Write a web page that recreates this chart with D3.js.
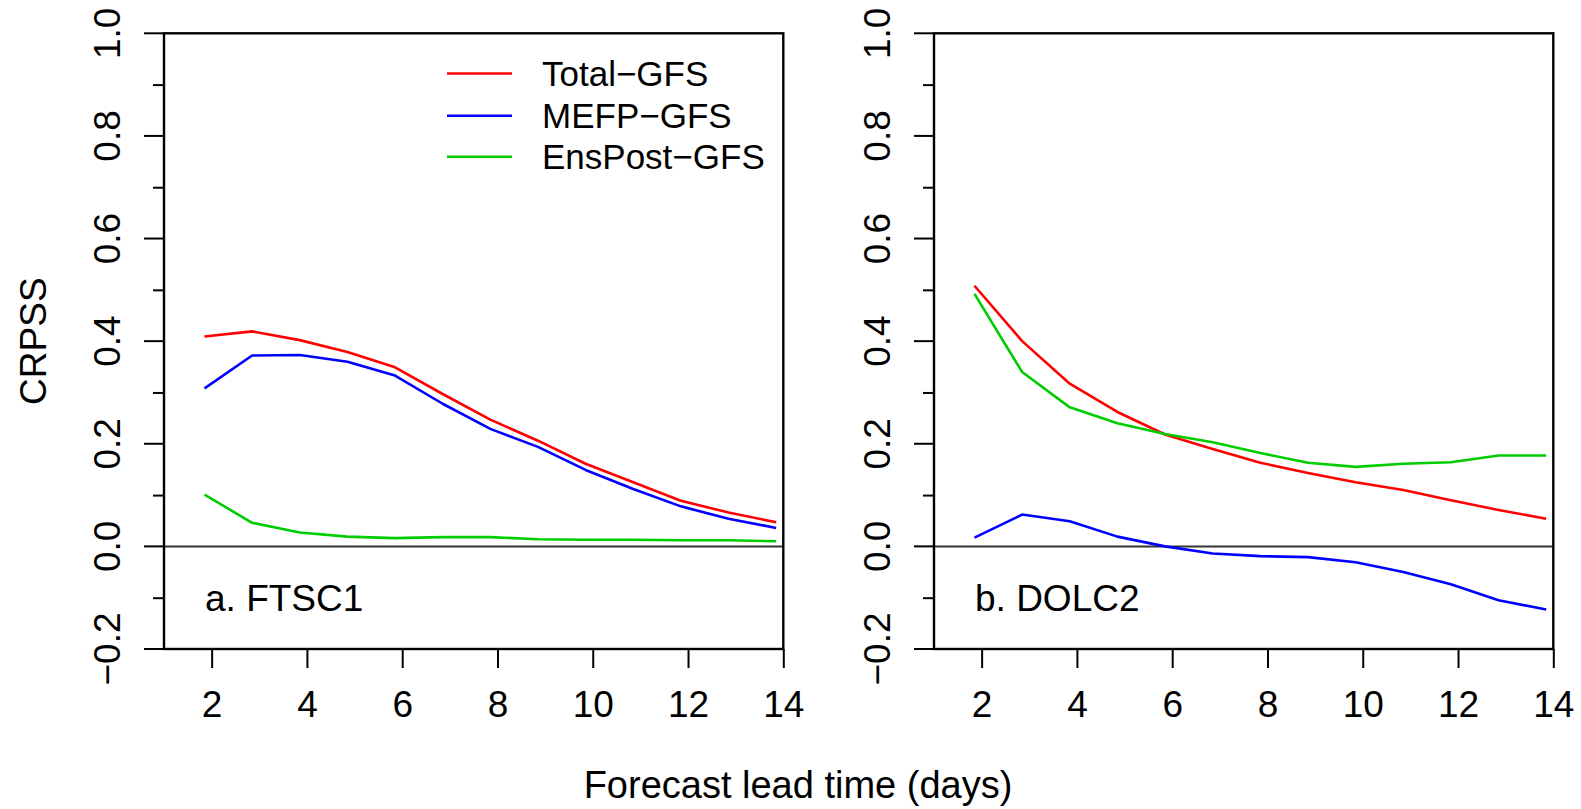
<!DOCTYPE html>
<html>
<head>
<meta charset="utf-8">
<script src="https://cdn.jsdelivr.net/npm/d3@7"></script>
<style>
  body { margin: 0; background: #fff; }
  svg text { font-family: "Liberation Sans", Arial, sans-serif; fill: #000; }
</style>
</head>
<body>
<div id="chart"></div>
<script>
// lead times (days) for each plotted point
const leadDays = [1.85, 2.85, 3.85, 4.85, 5.85, 6.85, 7.85, 8.85, 9.85, 10.85, 11.85, 12.85, 13.85];

// a. FTSC1
const ftscTotal   = [0.409, 0.419, 0.402, 0.379, 0.349, 0.297, 0.247, 0.206, 0.161, 0.125, 0.089, 0.066, 0.047];
const ftscMefp    = [0.308, 0.372, 0.373, 0.360, 0.333, 0.278, 0.229, 0.194, 0.149, 0.112, 0.078, 0.054, 0.036];
const ftscEnspost = [0.101, 0.046, 0.027, 0.019, 0.016, 0.018, 0.018, 0.014, 0.013, 0.013, 0.012, 0.012, 0.010];

// b. DOLC2
const dolcTotal   = [0.508, 0.400, 0.317, 0.262, 0.218, 0.190, 0.163, 0.143, 0.125, 0.110, 0.090, 0.071, 0.054];
const dolcMefp    = [0.017, 0.062, 0.049, 0.019, 0.000, -0.014, -0.019, -0.021, -0.031, -0.050, -0.074, -0.105, -0.123];
const dolcEnspost = [0.492, 0.340, 0.271, 0.240, 0.219, 0.203, 0.182, 0.163, 0.155, 0.161, 0.164, 0.177, 0.177];

const seriesNames = ['Total−GFS', 'MEFP−GFS', 'EnsPost−GFS'];
const panelTitles = ['a. FTSC1', 'b. DOLC2'];
const xTicks = [2, 4, 6, 8, 10, 12, 14];
const yTicks = [-0.2, 0, 0.2, 0.4, 0.6, 0.8, 1.0];
const yMinorTicks = [-0.1, 0.1, 0.3, 0.5, 0.7, 0.9];

const colors = ['#ff0000', '#0000ff', '#00cd00'];
const panels = [
    { title: panelTitles[0], series: [ftscTotal, ftscMefp, ftscEnspost], left: 164, legend: true },
    { title: panelTitles[1], series: [dolcTotal, dolcMefp, dolcEnspost], left: 934, legend: false }
];

const W = 1581, H = 809;
const plotW = 619.3, plotTop = 33.3, plotBottom = 649;
const fs = 37;

const svg = d3.select('#chart').append('svg')
    .attr('width', W).attr('height', H);

const fmt = v => {
    const s = d3.format('.1f')(Math.abs(v));
    return v < 0 ? '−' + s : s;
};

const y = d3.scaleLinear().domain([-0.2, 1.0]).range([plotBottom, plotTop]);

panels.forEach(p => {
    const x = d3.scaleLinear().domain([1, 14]).range([p.left, p.left + plotW]);
    const g = svg.append('g');

    // zero reference line
    g.append('line')
        .attr('x1', x(1)).attr('x2', x(14))
        .attr('y1', y(0)).attr('y2', y(0))
        .attr('stroke', '#333').attr('stroke-width', 2);

    // series lines
    const line = d3.line().x((d, i) => x(leadDays[i])).y(d => y(d));
    p.series.forEach((vals, k) => {
        g.append('path')
            .datum(vals)
            .attr('d', line)
            .attr('fill', 'none')
            .attr('stroke', colors[k])
            .attr('stroke-width', 2.6)
            .attr('stroke-linejoin', 'round');
    });

    // box
    g.append('rect')
        .attr('x', p.left).attr('y', plotTop)
        .attr('width', plotW).attr('height', plotBottom - plotTop)
        .attr('fill', 'none').attr('stroke', '#000').attr('stroke-width', 2.4);

    // y axis major ticks
    const yAxis = g.append('g')
        .attr('transform', `translate(${p.left},0)`)
        .call(d3.axisLeft(y).tickValues(yTicks).tickSize(20).tickSizeOuter(0).tickFormat(fmt));
    yAxis.select('.domain').remove();
    yAxis.selectAll('line').attr('stroke', '#000').attr('stroke-width', 2);
    yAxis.selectAll('.tick').attr('transform', null);
    yAxis.selectAll('.tick line').attr('y1', d => y(d)).attr('y2', d => y(d));
    yAxis.selectAll('.tick text')
        .attr('x', null).attr('dy', null).attr('y', null)
        .attr('transform', d => `translate(-44,${y(d)}) rotate(-90)`)
        .attr('text-anchor', 'middle')
        .style('font-size', fs + 'px')
        .style('font-family', '"Liberation Sans", Arial, sans-serif');

    // y axis minor ticks
    const yMinor = g.append('g')
        .attr('transform', `translate(${p.left},0)`)
        .call(d3.axisLeft(y).tickValues(yMinorTicks).tickSize(11).tickFormat(''));
    yMinor.select('.domain').remove();
    yMinor.selectAll('line').attr('stroke', '#000').attr('stroke-width', 2);

    // x axis
    const xAxis = g.append('g')
        .attr('transform', `translate(0,${plotBottom})`)
        .call(d3.axisBottom(x).tickValues(xTicks).tickSize(19).tickSizeOuter(0).tickFormat(d3.format('d')));
    xAxis.select('.domain').remove();
    xAxis.selectAll('line').attr('stroke', '#000').attr('stroke-width', 2);
    xAxis.selectAll('text')
        .attr('y', 67.7).attr('dy', null)
        .style('font-size', fs + 'px')
        .style('font-family', '"Liberation Sans", Arial, sans-serif');

    // panel label
    g.append('text')
        .attr('x', p.left + 41).attr('y', 611)
        .style('font-size', fs + 'px')
        .text(p.title);

    // legend
    if (p.legend) {
        const ly = [73.5, 115.7, 156.7];
        seriesNames.forEach((name, k) => {
            g.append('line')
                .attr('x1', 447).attr('x2', 512)
                .attr('y1', ly[k]).attr('y2', ly[k])
                .attr('stroke', colors[k]).attr('stroke-width', 2.6);
            g.append('text')
                .attr('x', 542).attr('y', ly[k])
                .attr('dominant-baseline', 'central')
                .style('font-size', '35px')
                .text(name);
        });
    }
});

// axis titles
svg.append('text')
    .attr('transform', `translate(45.5,${(plotTop + plotBottom) / 2}) rotate(-90)`)
    .attr('text-anchor', 'middle')
    .style('font-size', fs + 'px')
    .text('CRPSS');

svg.append('text')
    .attr('x', 798).attr('y', 798)
    .attr('text-anchor', 'middle')
    .style('font-size', '38px')
    .text('Forecast lead time (days)');
</script>
</body>
</html>
